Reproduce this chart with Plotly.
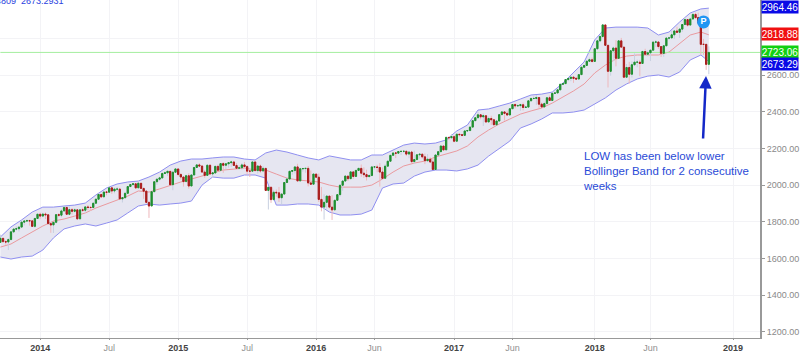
import plotly.graph_objects as go
import pandas as pd

opens = [1688,1710,1692,1690,1703,1745,1760,1762,1771,1798,1804,1806,1805,1775,1818,
1841,1831,1842,1838,1790,1783,1797,1839,1836,1859,1878,1841,1866,1857,1865,1816,1865,1863,1881,1878,1878,1901,1923,1949,1936,1962,1961,1985,1968,1978,1978,1925,1931,1955,1992,2003,2007,1985,2010,1982,1967,1906,1886,1964,2018,2032,2039,2063,2067,2075,2002,2070,
2088,2058,2044,2019,2051,1995,2055,2096,2110,2104,2071,2053,2108,2061,2066,2102,2081,2117,2108,2116,2122,2126,2107,2092,2094,2110,2101,2076,2076,2126,2079,2104,2077,2091,1971,1988,1921,1961,1958,1931,1951,2014,2033,2075,2079,2099,2023,2089,2090,2091,2012,2005,2060,
2043,1922,1880,1906,1940,1880,1865,1917,1948,1999,2022,2049,2035,2072,2047,2080,2091,2065,2057,2046,2052,2099,2099,2096,2071,2037,2103,2130,2162,2175,2174,2183,2184,2184,2169,2180,2128,2139,2165,2168,2154,2133,2141,2126,2085,2164,2182,2213,2192,2260,2258,2264,
2239,2277,2275,2271,2295,2297,2316,2351,2367,2383,2372,2378,2344,2363,2356,2329,2349,2384,2399,2391,2382,2416,2439,2432,2433,2438,2423,2425,2459,2472,2472,2477,2441,2426,2444,2476,2461,2500,2502,2519,2549,2553,2575,2581,2588,2582,2578,2602,2642,2652,2675,2683,
2674,2743,2786,2810,2873,2762,2620,2732,2747,2691,2786,2752,2588,2641,2604,2656,2670,2670,2663,2728,2713,2721,2735,2779,2780,2755,2718,2759,2801,2802,2819,2840,2833,2850,2875,2902,2872,2905,2930,2913,2885,2767,2767,2658]
closes = [1710,1692,1690,1703,1745,1760,1762,1771,1798,1804,1806,1805,1775,1818,1841,
1831,1842,1838,1790,1783,1797,1839,1836,1859,1878,1841,1866,1857,1865,1816,1865,1863,1881,1878,1878,1901,1923,1949,1936,1962,1961,1985,1968,1978,1978,1925,1931,1955,1992,2003,2007,1985,2010,1982,1967,1906,1886,1964,2018,2032,2039,2063,2067,2075,2002,2070,2088,
2058,2044,2019,2051,1995,2055,2096,2110,2104,2071,2053,2108,2061,2066,2102,2081,2117,2108,2116,2122,2126,2107,2092,2094,2110,2101,2076,2076,2126,2079,2104,2077,2091,1971,1988,1921,1961,1958,1931,1951,2014,2033,2075,2079,2099,2023,2089,2090,2091,2012,2005,2060,2043,
1922,1880,1906,1940,1880,1865,1917,1948,1999,2022,2049,2035,2072,2047,2080,2091,2065,2057,2046,2052,2099,2099,2096,2071,2037,2103,2130,2162,2175,2174,2183,2184,2184,2169,2180,2128,2139,2165,2168,2154,2133,2141,2126,2085,2164,2182,2213,2192,2260,2258,2264,2239,
2277,2275,2271,2295,2297,2316,2351,2367,2383,2372,2378,2344,2363,2356,2329,2349,2384,2399,2391,2382,2416,2439,2432,2433,2438,2423,2425,2459,2472,2472,2477,2441,2426,2444,2476,2461,2500,2502,2519,2549,2553,2575,2581,2588,2582,2578,2602,2642,2652,2675,2683,2674,
2743,2786,2810,2873,2762,2620,2732,2747,2691,2786,2752,2588,2641,2604,2656,2670,2670,2663,2728,2713,2721,2735,2779,2780,2755,2718,2759,2801,2802,2819,2840,2833,2850,2875,2902,2872,2905,2930,2913,2885,2767,2767,2658,2723.06]
highs = [1730,1711,1700,1711,1746,1764,1775,1775,1799,1804,1813,1811,1805,1823,1844,
1850,1850,1851,1841,1798,1798,1841,1847,1868,1884,1882,1883,1875,1873,1868,1865,1877,1885,1891,1885,1902,1924,1955,1950,1964,1968,1985,1986,1986,1990,1985,1932,1964,1995,2004,2012,2009,2020,2011,1985,1972,1910,1965,2018,2034,2046,2072,2076,2079,2076,2078,2093,
2089,2064,2046,2057,2065,2056,2097,2111,2119,2108,2083,2114,2114,2072,2102,2112,2120,2125,2117,2123,2134,2132,2120,2108,2120,2126,2109,2085,2128,2132,2110,2112,2103,2092,1989,1993,1975,1976,1990,1953,1953,2017,2036,2079,2095,2116,2095,2094,2094,2104,2080,2034,2063,
2063,1990,1950,1908,1940,1945,1881,1918,1963,2000,2022,2052,2056,2075,2075,2083,2112,2097,2084,2059,2060,2100,2111,2120,2096,2114,2105,2132,2164,2178,2178,2183,2188,2189,2186,2187,2188,2142,2175,2175,2172,2169,2151,2147,2126,2167,2189,2213,2214,2260,2278,2272,
2282,2279,2279,2300,2301,2319,2352,2368,2401,2386,2390,2382,2374,2378,2361,2351,2387,2401,2401,2406,2418,2440,2446,2442,2444,2450,2432,2463,2477,2484,2491,2480,2450,2454,2481,2488,2502,2509,2520,2553,2555,2576,2583,2588,2595,2590,2605,2651,2652,2680,2695,2695,
2743,2787,2811,2873,2872,2763,2735,2755,2790,2789,2802,2754,2660,2672,2674,2718,2684,2683,2733,2743,2733,2737,2784,2790,2779,2744,2764,2805,2809,2843,2845,2863,2851,2876,2916,2900,2912,2941,2940,2940,2874,2797,2771,2756]
lows = [1688,1687,1675,1646,1700,1738,1752,1747,1770,1780,1800,1779,1772,1767,1819,
1814,1825,1815,1790,1740,1739,1791,1825,1824,1855,1840,1835,1840,1850,1815,1816,1853,1850,1862,1859,1878,1900,1922,1930,1933,1944,1961,1952,1955,1965,1925,1905,1928,1955,1990,1995,1980,1984,1978,1925,1905,1821,1886,1964,2001,2023,2034,2062,2049,2002,1972,2069,
2048,2030,1992,2019,1980,1995,2053,2096,2098,2067,2040,2050,2056,2040,2063,2073,2080,2067,2085,2095,2099,2105,2099,2085,2084,2095,2056,2044,2074,2077,2063,2067,2070,1971,1867,1903,1916,1937,1908,1893,1950,2013,2039,2056,2063,2022,2019,2073,2067,1993,2003,2005,2038,
1908,1857,1812,1872,1872,1810,1891,1917,1937,1969,2024,2022,2033,2034,2051,2079,2045,2039,2025,2052,2077,2085,2070,1992,2047,2081,2128,2157,2163,2147,2175,2164,2175,2158,2146,2120,2116,2140,2144,2144,2114,2125,2126,2083,2084,2156,2181,2187,2193,2245,2254,2233,
2254,2265,2266,2267,2295,2316,2352,2363,2368,2358,2322,2345,2344,2328,2329,2349,2378,2381,2352,2382,2405,2415,2418,2428,2405,2407,2427,2459,2468,2466,2437,2417,2426,2444,2446,2459,2496,2496,2521,2544,2550,2569,2566,2566,2557,2578,2605,2625,2651,2673,2673,2668,
2683,2737,2778,2800,2759,2532,2596,2675,2647,2691,2750,2585,2594,2553,2586,2649,2642,2594,2663,2711,2701,2676,2736,2752,2742,2698,2699,2759,2790,2802,2796,2829,2802,2835,2876,2864,2873,2905,2905,2878,2710,2710,2628,2604]

band_upper = [1717,1772,1810,1853,1880,1880,1886,1891,1902,1946,1984,2006,2017,2022,2044,2071,2109,2131,2142,2142,2148,2153,2153,2142,2137,2175,2191,2180,2164,2148,2137,2159,2148,2137,2137,2164,2164,2191,2218,2229,2224,2229,2246,2295,2327,2409,2415,2431,2447,2469,2491,2496,2507,2556,2616,2671,2791,2856,2861,2861,2861,2856,2818,2834,2889,2938,2960,2964.46]
band_lower = [1608,1597,1608,1613,1646,1712,1761,1777,1788,1777,1793,1810,1848,1886,1897,1891,1897,1902,1913,2000,2044,2038,2038,2055,2055,2038,1891,1891,1897,1897,1891,1853,1837,1837,1842,1864,1984,2006,2011,2049,2071,2082,2082,2077,2088,2109,2158,2197,2240,2311,2333,2360,2393,2393,2398,2409,2442,2475,2518,2551,2578,2594,2600,2589,2616,2682,2709,2673.29]
band_mid = [1662,1679,1712,1744,1777,1804,1815,1831,1848,1875,1897,1919,1940,1968,1962,1979,2000,2017,2033,2049,2066,2082,2087,2093,2082,2082,2060,2038,2028,2022,2017,2000,1989,1989,1989,2000,2033,2071,2104,2120,2131,2153,2169,2186,2213,2262,2300,2333,2360,2387,2404,2420,2447,2480,2513,2551,2611,2654,2687,2703,2709,2709,2709,2725,2769,2818,2834,2818.88]

y_ticks = [1200,1400,1600,1800,2000,2200,2400,2600,2800]
y_labels = ["1200.00","1400.00","1600.00","1800.00","2000.00","2200.00","2400.00","2600.00",""]
x_ticks = ["2013-12-30","2014-06-30","2014-12-29","2015-06-29","2015-12-28","2016-05-30","2016-12-26","2017-05-29","2018-01-01","2018-05-28","2019-01-01"]
YEAR = "<b><span style='color:#444444'>%s</span></b>"
x_labels = [YEAR % "2014","Jul",YEAR % "2015","Jul",YEAR % "2016","Jun",YEAR % "2017","Jun",YEAR % "2018","Jun",YEAR % "2019"]
price_tags = [("2964.46",7,"#0a0ae6"),("2818.88",34,"#f01010"),("2723.06",52,"#12d012"),("2673.29",64,"#0a0ae6")]
last_close = 2723.06
pin_date, pin_value = "2018-10-15", 2889
note = "LOW has been below lower<br>Bollinger Band for 2 consecutive<br>weeks"
header = "4809  2673.2931"

assert len(opens) == len(closes) == len(highs) == len(lows) == 268, (len(opens), len(closes), len(highs), len(lows))
assert len(band_upper) == len(band_lower) == len(band_mid) == 68, (len(band_upper), len(band_lower), len(band_mid))

dates = pd.date_range(end="2018-10-29", periods=len(closes), freq="7D")
band_dates = list(dates[::4][:67]) + [dates[-1]]

GREEN, RED = "#1f8f30", "#a81c1c"
W, H, R, B = 800, 353, 40, 15
PW, PH = W - R, H - B
Y_RANGE = [1166.6, 3008.75]
fig = go.Figure()
fig.add_trace(go.Scatter(x=band_dates, y=band_upper, mode="lines", line=dict(color="#8f8ff0", width=1), showlegend=False, hoverinfo="skip"))
fig.add_trace(go.Scatter(x=band_dates, y=band_lower, mode="lines", line=dict(color="#8f8ff0", width=1), fill="tonexty", fillcolor="#e6e6f1", showlegend=False, hoverinfo="skip"))
fig.add_trace(go.Scatter(x=band_dates, y=band_mid, mode="lines", line=dict(color="#ea9a9f", width=1), showlegend=False, hoverinfo="skip"))
fig.add_trace(go.Scatter(x=[dates[0], "2019-03-13"], y=[last_close, last_close], mode="lines", line=dict(color="#a4ee9f", width=1), showlegend=False, hoverinfo="skip"))
# pale wicks underneath, on an overlaying axis so they sit above the band fill
fig.add_trace(go.Candlestick(x=dates, open=closes, high=highs, low=lows, close=closes, yaxis="y2",
    increasing=dict(line=dict(color="#c8d0e0", width=1), fillcolor="#c8d0e0"),
    decreasing=dict(line=dict(color="#eeb8bc", width=1), fillcolor="#eeb8bc"),
    showlegend=False, hoverinfo="skip"))
# solid bodies
fig.add_trace(go.Candlestick(x=dates, open=opens, close=closes, yaxis="y2",
    high=[max(o, c) for o, c in zip(opens, closes)], low=[min(o, c) for o, c in zip(opens, closes)],
    increasing=dict(line=dict(color=GREEN, width=1), fillcolor=GREEN),
    decreasing=dict(line=dict(color=RED, width=1), fillcolor=RED),
    showlegend=False, hoverinfo="skip"))
fig.add_trace(go.Scatter(x=[pin_date], y=[pin_value], mode="markers+text", text=["<b>P</b>"], textposition="middle center", yaxis="y2",
    textfont=dict(color="white", size=9, family="Liberation Sans"), marker=dict(size=13, color="#2196f3"), showlegend=False, hoverinfo="skip"))

for text, y, col in price_tags:
    fig.add_annotation(xref="paper", yref="paper", x=1.0, y=1 - y / PH, xanchor="left", yanchor="middle", xshift=1, text=text, showarrow=False,
        font=dict(color="white", size=10, family="Liberation Sans"), bgcolor=col, width=36, height=12, borderpad=0, align="center")
fig.add_annotation(xref="paper", yref="paper", x=706 / PW, y=1 - 76 / PH, ax=-3, ay=64, axref="pixel", ayref="pixel", text="", showarrow=True,
    arrowhead=2, arrowsize=1.0, arrowwidth=2.5, arrowcolor="#1428c8")
fig.add_annotation(xref="paper", yref="paper", x=581 / PW, y=1 - 171 / PH, xanchor="left", yanchor="middle", align="left", text=note, showarrow=False,
    font=dict(color="#2a4bd7", size=11.5, family="Liberation Sans"))
fig.add_annotation(xref="paper", yref="paper", x=66 / PW, y=1.0, xanchor="right", yanchor="middle", yshift=-1, text=header, showarrow=False,
    font=dict(color="#2a3fe0", size=9, family="Liberation Sans"))

fig.update_layout(width=W, height=H, margin=dict(l=0, r=R, t=0, b=B, pad=0), plot_bgcolor="white", paper_bgcolor="white", showlegend=False,
    yaxis2=dict(overlaying="y", side="right", range=Y_RANGE, visible=False))
fig.update_xaxes(type="date", range=["2013-09-15", "2019-03-13"], tickmode="array", tickvals=x_ticks, ticktext=x_labels,
    showgrid=True, gridcolor="#f3f3f6", gridwidth=1, showline=True, linecolor="#999999", linewidth=1, ticks="outside", ticklen=1, tickcolor="#999999",
    tickfont=dict(size=9, color="#909090", family="Liberation Sans"), rangeslider=dict(visible=False), automargin=False)
fig.update_layout(yaxis=dict(side="right", range=Y_RANGE, tickmode="array", tickvals=y_ticks, ticktext=y_labels,
    showgrid=True, gridcolor="#f3f3f6", gridwidth=1, showline=True, linecolor="#999999", linewidth=2, ticks="outside", ticklen=3, tickcolor="#999999",
    tickfont=dict(size=9, color="#8a8a8a", family="Liberation Sans"), zeroline=False, automargin=False))
fig.write_html("out.html", config=dict(displayModeBar=False), post_script="document.body.style.margin='0';document.documentElement.style.overflow='hidden';")
